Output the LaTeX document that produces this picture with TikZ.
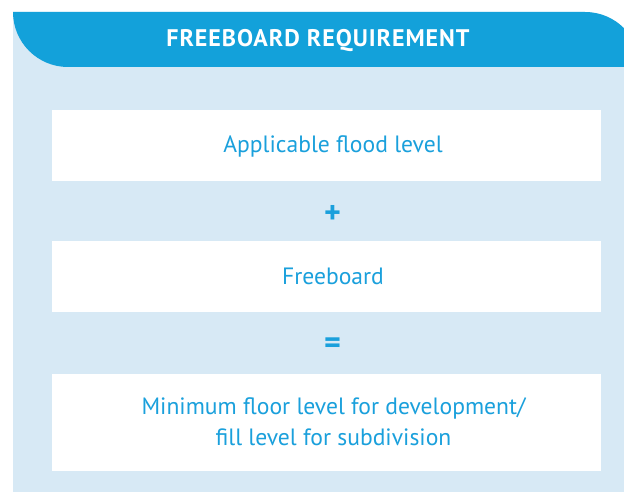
\documentclass[tikz,border=0pt]{standalone}
\usepackage{fontspec}
\setmainfont{PT Sans}
\newfontfamily\titlefont[LetterSpace=4]{PT Sans}
\definecolor{headblue}{HTML}{13A1DA}
\definecolor{panelblue}{HTML}{D7E9F5}
\definecolor{textblue}{HTML}{1AA0DC}
\tikzset{
  stepbox/.style={fill=white, draw=none, minimum width=549pt, inner sep=0pt},
  steptext/.style={text=textblue, font=\fontsize{23.6}{31}\selectfont, align=center, inner sep=0pt},
  opsign/.style={text=textblue, font=\bfseries\fontsize{32}{32}\selectfont, inner sep=0pt},
  headtext/.style={text=white, font=\titlefont\bfseries\fontsize{24}{24}\selectfont, inner sep=0pt}
}
\begin{document}
\begin{tikzpicture}[x=1pt,y=-1pt]
  \useasboundingbox (0,0) rectangle (624,492);
  \clip (0,0) rectangle (624,492);
  % light panel with rounded top-right corner
  \fill[panelblue] (13,12) -- (585,12)
    .. controls (615.4,12) and (640,36.6) .. (640,67)
    -- (640,500) -- (13,500) -- cycle;
  % title bar with rounded top-right and bottom-left corners
  \fill[headblue] (13,12) -- (585,12)
    .. controls (615.4,12) and (640,36.6) .. (640,67)
    -- (68,67)
    .. controls (37.6,67) and (13,42.4) .. (13,12) -- cycle;
  \node[headtext, anchor=base] (title) at (318,47) {FREEBOARD REQUIREMENT};

  % the three white boxes
  \node[stepbox, minimum height=71pt] (b1) at (326.5,145.5) {};
  \node[stepbox, minimum height=71pt] (b2) at (326.5,276) {};
  \node[stepbox, minimum height=97pt] (b3) at (326.5,422) {};

  \node[steptext, anchor=base] (t1) at (333,153) {Applicable flood level};
  \node[steptext, anchor=base] (t2) at (333,284) {Freeboard};
  \node[steptext, anchor=base] (t3) at (333.5,445) {Minimum floor level for development/\\fill level for subdivision};

  \node[opsign] (plus) at (332.5,214) {+};
  \node[opsign] (eq) at (332.5,346) {=};
\end{tikzpicture}
\end{document}
